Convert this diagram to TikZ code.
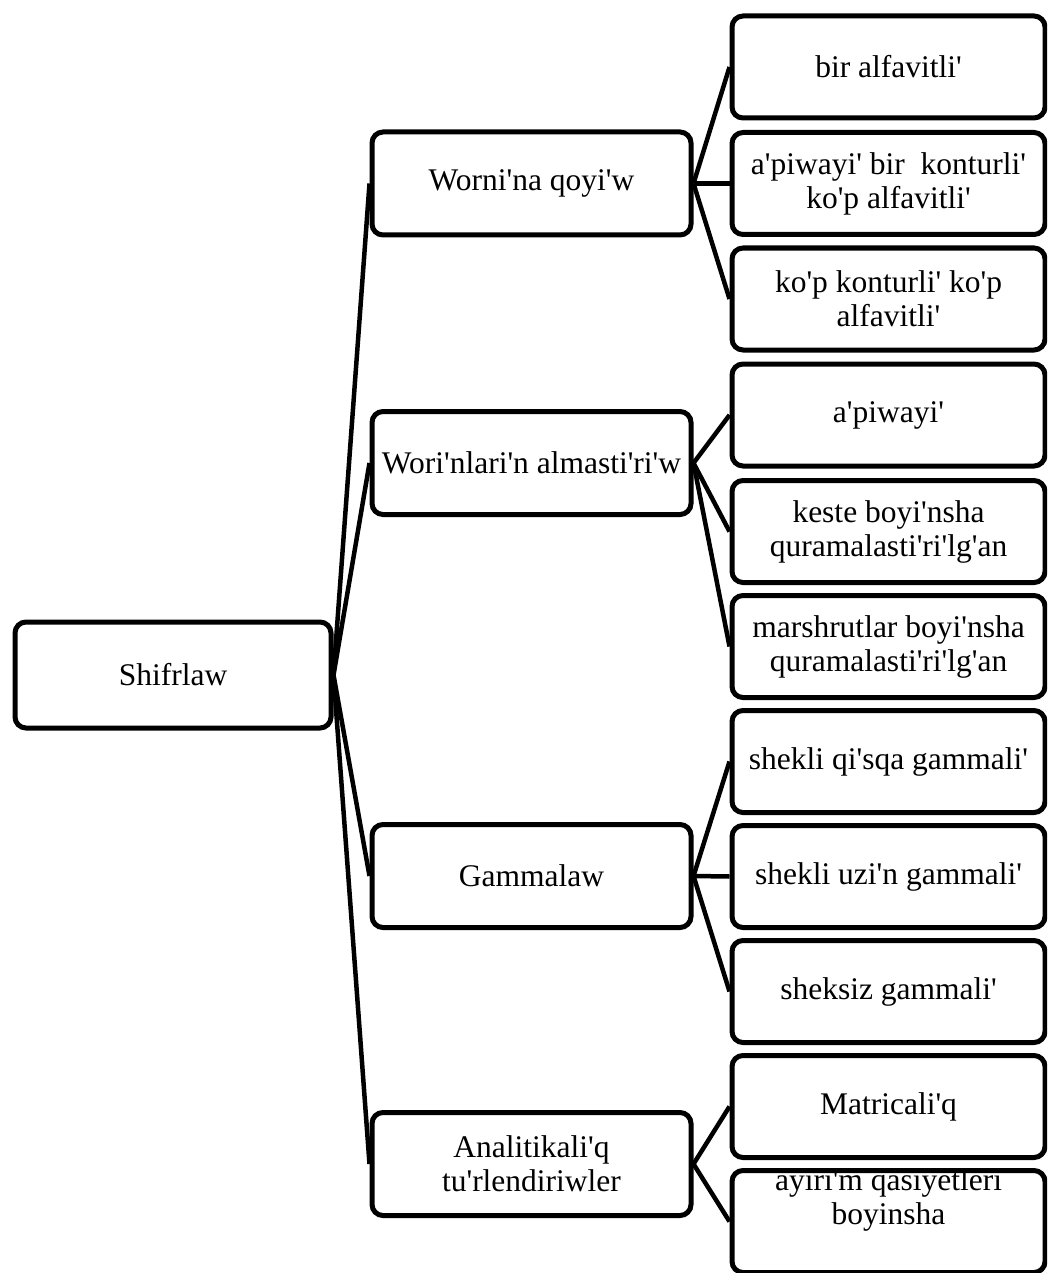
\documentclass[tikz,border=0pt]{standalone}
\usepackage{fontspec}
\newfontfamily\boxfont{Liberation Serif}
\begin{document}
\begin{tikzpicture}[x=1pt,y=-1pt,
  box/.style={draw=black, line width=5pt, rounded corners=11pt, inner sep=0pt,
    align=center, font=\boxfont\fontsize{31.5}{34}\selectfont},
  rootbox/.style={box, minimum width=316pt, minimum height=106pt},
  midbox/.style={box, minimum width=319pt, minimum height=103pt},
  leafbox/.style={box, minimum width=313pt, minimum height=102pt},
  txt/.style={inner sep=0pt, align=center, font=\boxfont\fontsize{31.5}{34}\selectfont},
  link/.style={line width=4.5pt, black}]
\useasboundingbox (0,0) rectangle (1047,1273);
\clip (0,0) rectangle (1047,1273);

% root
\node[rootbox] (root) at (173,675) {Shifrlaw};

% second level
\node[midbox] (w1) at (531.5,183.5) {Worni'na qoyi'w};
\node[midbox] (w2) at (531.5,463) {Wori'nlari'n almasti'ri'w};
\node[midbox] (w3) at (531.5,876) {Gammalaw};
\node[midbox] (w4) at (531.5,1164) {Analitikali'q\\tu'rlendiriwler};

% third level
\node[leafbox] (a1) at (888.5,67) {bir alfavitli'};
\node[leafbox] (a2) at (888.5,183.5) {a'piwayi' bir~\ konturli'\\ko'p alfavitli'};
\node[leafbox] (a3) at (888.5,299) {ko'p konturli' ko'p\\alfavitli'};

\node[leafbox] (b1) at (888.5,415) {a'piwayi'};
\node[leafbox] (b2) at (888.5,531.5) {keste boyi'nsha\\quramalasti'ri'lg'an};
\node[leafbox] (b3) at (888.5,646.5) {marshrutlar boyi'nsha\\quramalasti'ri'lg'an};

\node[leafbox] (c1) at (888.5,761.5) {shekli qi'sqa gammali'};
\node[leafbox] (c2) at (888.5,876.5) {shekli uzi'n gammali'};
\node[leafbox] (c3) at (888.5,991.5) {sheksiz gammali'};

\node[leafbox] (d1) at (888.5,1106.5) {Matricali'q};
\node[leafbox] (d2) at (888.5,1221.5) {};
\node[txt] (d2t) at (888.5,1200) {ayiri'm qasiyetleri\\boyinsha};

% connectors
\foreach \m in {w1,w2,w3,w4} \draw[link] (root.east) -- (\m.west);
\foreach \m in {a1,a2,a3} \draw[link] (w1.east) -- (\m.west);
\foreach \m in {b1,b2,b3} \draw[link] (w2.east) -- (\m.west);
\foreach \m in {c1,c2,c3} \draw[link] (w3.east) -- (\m.west);
\foreach \m in {d1,d2} \draw[link] (w4.east) -- (\m.west);
\end{tikzpicture}
\end{document}
